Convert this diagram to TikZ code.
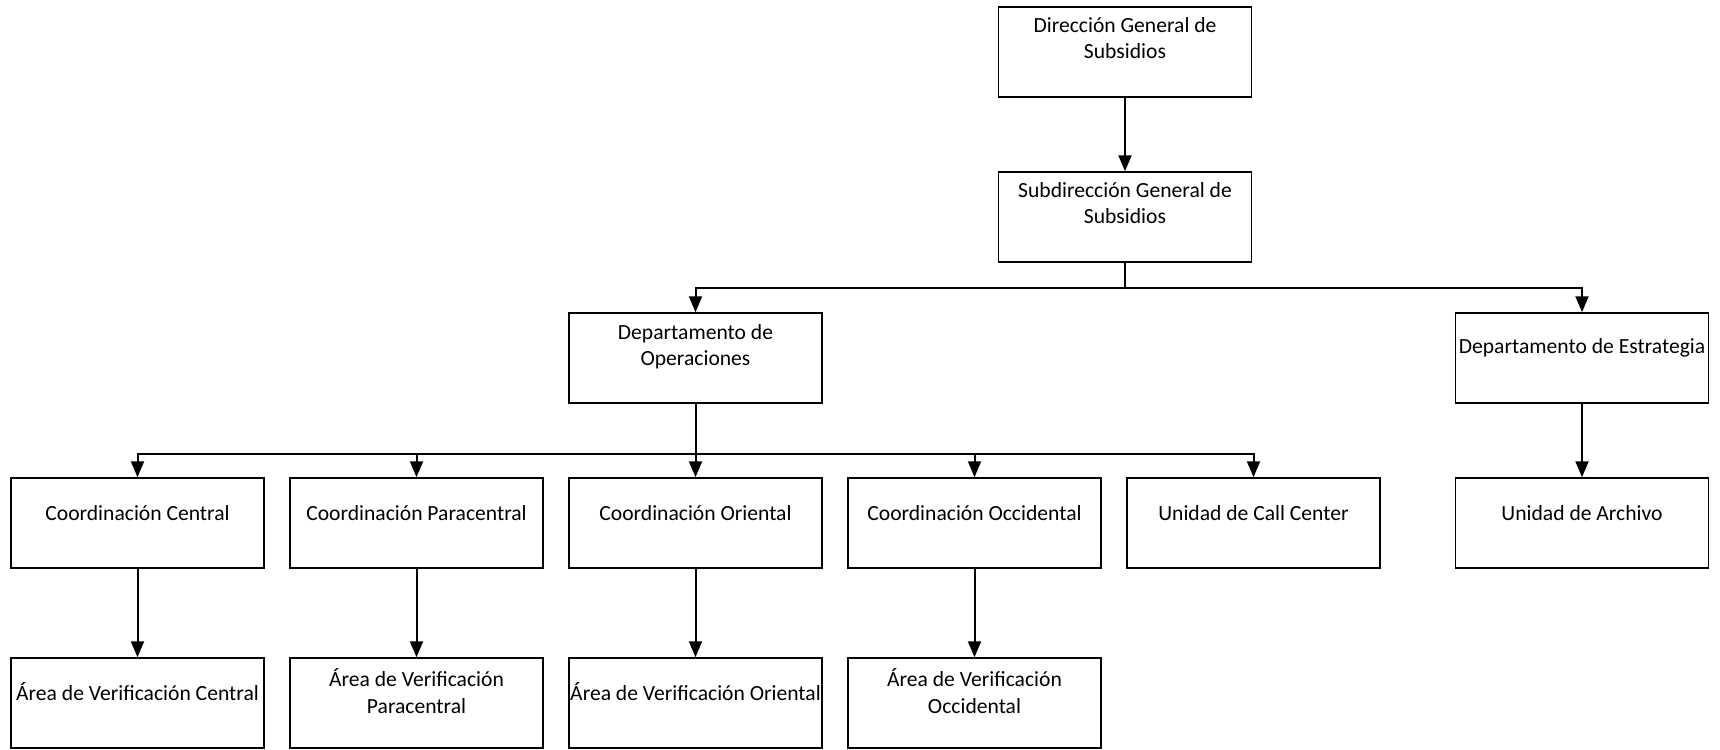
\documentclass[tikz,border=0pt]{standalone}
\usepackage{fontspec}
\setmainfont{Carlito}
\usetikzlibrary{arrows.meta}
\begin{document}
\begin{tikzpicture}[x=1pt,y=-1pt,
  box/.style={draw, line width=1.5pt, minimum width=253pt, minimum height=90pt, inner sep=0pt},
  txt/.style={align=center, inner sep=0pt, font=\fontsize{21.6}{26.5}\selectfont},
  arr/.style={line width=2pt, -{Triangle[length=16pt,width=13pt]}}]
\useasboundingbox[fill=white] (0,0) rectangle (1720,749);
\newcommand{\orgbox}[5]{%
  \node[box] (#1) at (#2,#3) {};
  \node[txt] (#1t) at ([yshift=-#4pt]#1.north) {#5};}
\orgbox{dir}{1125}{52}{32}{Dirección General de\\Subsidios}
\orgbox{sub}{1125}{217}{32}{Subdirección General de\\Subsidios}
\orgbox{ops}{695.5}{358}{34.5}{Departamento de\\Operaciones}
\orgbox{est}{1582}{358}{36}{Departamento de Estrategia}
\orgbox{cc}{137.5}{523}{36}{Coordinación Central}
\orgbox{cp}{416.5}{523}{36}{Coordinación Paracentral}
\orgbox{co}{695.5}{523}{36}{Coordinación Oriental}
\orgbox{cw}{974.5}{523}{36}{Coordinación Occidental}
\orgbox{uc}{1253.5}{523}{36}{Unidad de Call Center}
\orgbox{ua}{1582}{523}{36}{Unidad de Archivo}
\orgbox{ac}{137.5}{703}{34}{Área de Verificación Central}
\orgbox{ap}{416.5}{703}{34}{Área de Verificación\\Paracentral}
\orgbox{ao}{695.5}{703}{34}{Área de Verificación Oriental}
\orgbox{aw}{974.5}{703}{34}{Área de Verificación\\Occidental}
\coordinate (bar1) at (0,288);
\coordinate (bar2) at (0,454);
\draw[arr] (dir.south) -- (sub.north);
\draw[arr] (sub.south) -- (sub.south |- bar1) -| (ops.north);
\draw[arr] (sub.south) -- (sub.south |- bar1) -| (est.north);
\foreach \c in {cc,cp,co,cw,uc}{
  \draw[arr] (ops.south) -- (ops.south |- bar2) -| (\c.north);
}
\draw[arr] (est.south) -- (ua.north);
\draw[arr] (cc.south) -- (ac.north);
\draw[arr] (cp.south) -- (ap.north);
\draw[arr] (co.south) -- (ao.north);
\draw[arr] (cw.south) -- (aw.north);
\end{tikzpicture}
\end{document}
